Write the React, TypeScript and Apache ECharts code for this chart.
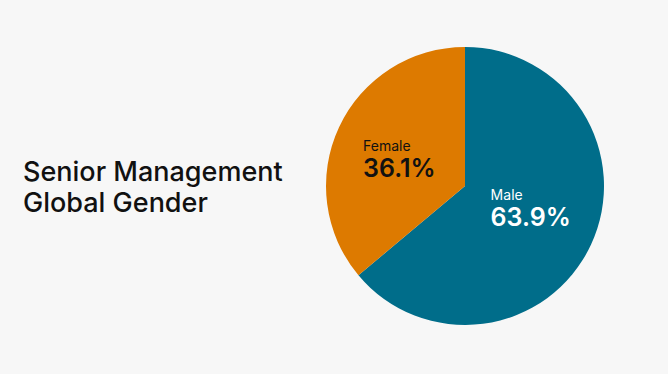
import React, { useEffect, useRef } from "react";
import * as echarts from "echarts";

const titleLines = ["Senior Management", "Global Gender"];
const categories = ["Male", "Female"];
const values = [63.9, 36.1];
const colors = ["#006d8a", "#dd7a00"];
const labelColors = ["#ffffff", "#111111"];

export default function App() {
  const ref = useRef<HTMLDivElement>(null);
  useEffect(() => {
    const chart = echarts.init(ref.current!, null, { renderer: "svg" });
    const font = "Inter, 'Noto Sans', sans-serif";
    const offsets = [[0, -9], [0, 4]];
    chart.setOption({
      animation: false,
      backgroundColor: "#f7f7f7",
      title: {
        text: titleLines.join("\n"),
        left: 18,
        top: 151,
        textStyle: {
          fontFamily: font,
          fontSize: 27,
          fontWeight: 500,
          lineHeight: 31,
          color: "#111111",
        },
      },
      series: [
        {
          type: "pie",
          center: [465, 186],
          radius: 139,
          startAngle: 90,
          clockwise: true,
          silent: true,
          emphasis: { disabled: true },
          label: {
            show: true,
            position: "inside",
            formatter: (p: any) => `{n|${p.name}}\n{v|${p.value}%}`,
            rich: {
              n: { fontFamily: font, fontSize: 14, lineHeight: 18, align: "left" },
              v: { fontFamily: font, fontSize: 25, fontWeight: 600, lineHeight: 27, align: "left" },
            },
          },
          labelLine: { show: false },
          data: categories.map((c, i) => ({
            name: c,
            value: values[i],
            itemStyle: { color: colors[i] },
            label: {
              color: labelColors[i],
              offset: offsets[i],
              rich: { n: { color: labelColors[i] }, v: { color: labelColors[i] } },
            },
          })),
        },
      ],
    });
    return () => chart.dispose();
  }, []);
  return <div ref={ref} style={{ position: "fixed", left: 0, top: 0, width: 668, height: 374 }} />;
}
